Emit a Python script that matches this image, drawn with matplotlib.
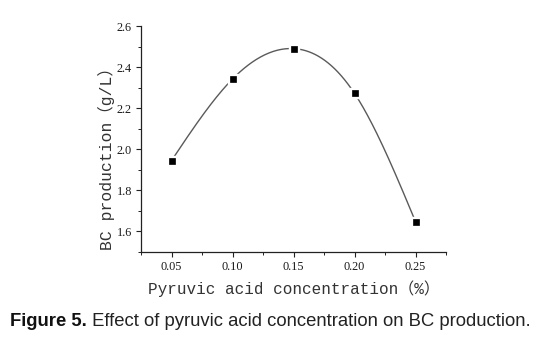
import numpy as np
import matplotlib
matplotlib.use("Agg")
import matplotlib.pyplot as plt
from matplotlib.ticker import MultipleLocator

conc = [0.05, 0.10, 0.15, 0.20, 0.25]
bc = [1.945, 2.342, 2.490, 2.272, 1.648]
xticks = [0.05, 0.10, 0.15, 0.20, 0.25]
xticklabels = ["0.05", "0.10", "0.15", "0.20", "0.25"]
yticks = [1.6, 1.8, 2.0, 2.2, 2.4, 2.6]
yticklabels = ["1.6", "1.8", "2.0", "2.2", "2.4", "2.6"]
caption_bold = "Figure 5."
caption_rest = " Effect of pyruvic acid concentration on BC production."


def natural_spline(x, y, xs):
    x = np.asarray(x, float); y = np.asarray(y, float)
    n = len(x)
    h = np.diff(x)
    A = np.zeros((n, n)); r = np.zeros(n)
    A[0, 0] = 1; A[-1, -1] = 1
    for i in range(1, n - 1):
        A[i, i - 1] = h[i - 1]
        A[i, i] = 2 * (h[i - 1] + h[i])
        A[i, i + 1] = h[i]
        r[i] = 3 * ((y[i + 1] - y[i]) / h[i] - (y[i] - y[i - 1]) / h[i - 1])
    c = np.linalg.solve(A, r)
    out = np.empty_like(xs)
    for k, xv in enumerate(xs):
        i = min(max(np.searchsorted(x, xv) - 1, 0), n - 2)
        dx = xv - x[i]
        b = (y[i + 1] - y[i]) / h[i] - h[i] * (2 * c[i] + c[i + 1]) / 3
        d = (c[i + 1] - c[i]) / (3 * h[i])
        out[k] = y[i] + b * dx + c[i] * dx ** 2 + d * dx ** 3
    return out


fig = plt.figure(figsize=(5.56, 3.40), dpi=100)
ax = fig.add_axes([0.2536, 0.2588, 0.5486, 0.6647])

xs = np.linspace(conc[0], conc[-1], 300)
ax.plot(xs, natural_spline(conc, bc, xs), color="#5a5a5a", lw=1.0, zorder=2)
ax.plot(conc, bc, ls="none", marker="s", ms=6.5, mfc="white", mec="white", zorder=3)
ax.plot(conc, bc, ls="none", marker="s", ms=3.7, mfc="black", mec="black", mew=0.5, zorder=4)

ax.set_xlim(0.025, 0.275)
ax.set_ylim(1.5, 2.6)
ax.set_xticks(xticks)
ax.set_xticklabels(xticklabels)
ax.set_yticks(yticks)
ax.set_yticklabels(yticklabels)
ax.xaxis.set_minor_locator(MultipleLocator(0.025))
ax.yaxis.set_minor_locator(MultipleLocator(0.1))
for s in ["top", "right"]:
    ax.spines[s].set_visible(False)
for s in ["left", "bottom"]:
    ax.spines[s].set_linewidth(0.9)
    ax.spines[s].set_color("#222222")
ax.tick_params(which="major", direction="out", length=3.5, width=0.8, color="#222222",
               labelsize=8.8, pad=3)
ax.tick_params(which="minor", direction="out", length=2.2, width=0.7, color="#222222")
for lab in ax.get_xticklabels() + ax.get_yticklabels():
    lab.set_family("Liberation Serif")
    lab.set_color("#1a1a1a")

fam = ["Liberation Mono", "Noto Sans CJK SC"]
ax.set_xlabel("Pyruvic acid concentration（%）", family=fam, fontsize=11.5,
              color="#333333", labelpad=5)
ax.set_ylabel("BC production（g/L）", family=fam, fontsize=11.8,
              color="#333333")
ax.yaxis.set_label_coords(-0.085, 0.43)

cap_size = 13.3
t1 = fig.text(10 / 556, 14 / 340, caption_bold, fontsize=cap_size, family="Liberation Sans",
              weight="bold", va="baseline", ha="left", color="#111111")
fig.canvas.draw()
bb = t1.get_window_extent(renderer=fig.canvas.get_renderer())
fig.text(bb.x1 / fig.bbox.width, 14 / 340, caption_rest, fontsize=cap_size,
         family="Liberation Sans", va="baseline", ha="left", color="#222222")
fig.savefig("out.png", dpi=100)
